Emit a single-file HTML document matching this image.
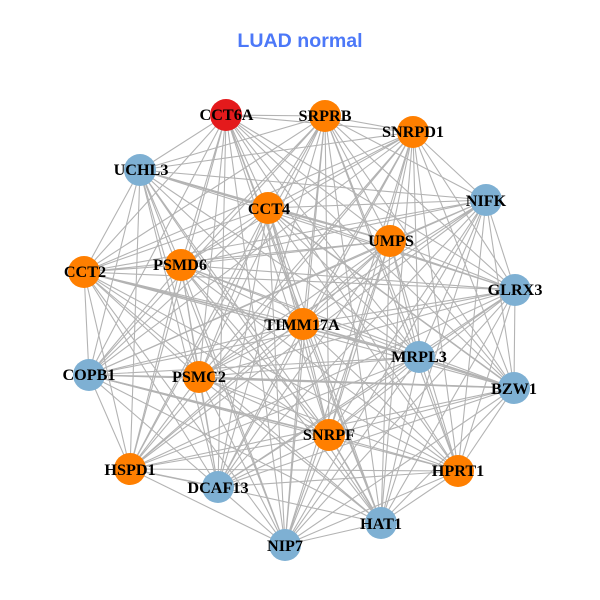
<!DOCTYPE html>
<html><head><meta charset="utf-8"><style>
html,body{margin:0;padding:0;background:#fff}
svg{display:block}
.l{font:bold 16.2px "Liberation Serif",serif;text-anchor:middle;fill:#000}
</style></head><body>
<svg width="600" height="600" viewBox="0 0 600 600" xmlns="http://www.w3.org/2000/svg">
<rect width="600" height="600" fill="#fff"/>
<text x="300" y="47" text-anchor="middle" style="font:bold 19.6px 'Liberation Sans',sans-serif" fill="#4c78f8">LUAD normal</text>
<g fill="none" stroke="#b3b3b3" stroke-width="1.1">
<path d="M226 115L325 116M226 115L413 132M226 115L515 290M226 115L514 388M226 115L458 471M226 115L381 523M226 115L285 545M226 115L218 487M226 115L130 469M226 115L89 375M226 115L84 272M226 115L140 170M226 115L268 208M226 115L390 241M226 115L181 265M226 115L303 324M226 115L419 357M226 115L199 377M226 115L329 435"/>
<path d="M325 116L413 132M325 116L486 200M325 116L515 290M325 116L514 388M325 116L458 471M325 116L381 523M325 116L285 545M325 116L218 487M325 116L130 469M325 116L89 375M325 116L140 170M325 116L84 272M325 116L268 208M325 116L390 241M325 116L181 265M325 116L303 324M325 116L419 357M325 116L199 377M325 116L329 435"/>
<path d="M413 132L486 200M413 132L515 290M413 132L514 388M413 132L458 471M413 132L381 523M413 132L285 545M413 132L218 487M413 132L130 469M413 132L84 272M413 132L140 170M413 132L268 208M413 132L390 241M413 132L181 265M413 132L303 324M413 132L419 357M413 132L199 377M413 132L329 435M413 132L89 375"/>
<path d="M486 200L515 290M486 200L514 388M486 200L458 471M486 200L381 523M486 200L285 545M486 200L218 487M486 200L130 469M486 200L84 272M486 200L268 208M486 200L390 241M486 200L181 265M486 200L303 324M486 200L419 357M486 200L199 377M486 200L329 435M486 200L140 170M486 200L89 375"/>
<path d="M515 290L514 388M515 290L458 471M515 290L381 523M515 290L285 545M515 290L218 487M515 290L130 469M515 290L89 375M515 290L84 272M515 290L140 170M515 290L268 208M515 290L390 241M515 290L181 265M515 290L303 324M515 290L419 357M515 290L199 377M515 290L329 435"/>
<path d="M514 388L458 471M514 388L381 523M514 388L285 545M514 388L218 487M514 388L130 469M514 388L89 375M514 388L84 272M514 388L268 208M514 388L390 241M514 388L181 265M514 388L303 324M514 388L419 357M514 388L199 377M514 388L329 435"/>
<path d="M458 471L381 523M458 471L285 545M458 471L218 487M458 471L130 469M458 471L89 375M458 471L84 272M458 471L268 208M458 471L390 241M458 471L181 265M458 471L303 324M458 471L419 357M458 471L199 377M458 471L329 435"/>
<path d="M381 523L285 545M381 523L218 487M381 523L84 272M381 523L140 170M381 523L268 208M381 523L390 241M381 523L181 265M381 523L303 324M381 523L419 357M381 523L199 377M381 523L329 435M381 523L89 375"/>
<path d="M285 545L218 487M285 545L130 469M285 545L89 375M285 545L84 272M285 545L140 170M285 545L268 208M285 545L390 241M285 545L181 265M285 545L303 324M285 545L419 357M285 545L199 377M285 545L329 435"/>
<path d="M218 487L130 469M218 487L84 272M218 487L140 170M218 487L268 208M218 487L390 241M218 487L181 265M218 487L303 324M218 487L419 357M218 487L199 377M218 487L329 435"/>
<path d="M130 469L89 375M130 469L84 272M130 469L140 170M130 469L268 208M130 469L390 241M130 469L181 265M130 469L303 324M130 469L419 357M130 469L199 377M130 469L329 435"/>
<path d="M89 375L84 272M89 375L140 170M89 375L268 208M89 375L390 241M89 375L181 265M89 375L303 324M89 375L419 357M89 375L199 377M89 375L329 435"/>
<path d="M84 272L140 170M84 272L268 208M84 272L390 241M84 272L181 265M84 272L303 324M84 272L419 357M84 272L199 377M84 272L329 435"/>
<path d="M140 170L268 208M140 170L390 241M140 170L181 265M140 170L303 324M140 170L419 357M140 170L199 377M140 170L329 435"/>
<path d="M268 208L390 241M268 208L181 265M268 208L303 324M268 208L419 357M268 208L199 377M268 208L329 435"/>
<path d="M390 241L181 265M390 241L303 324M390 241L419 357M390 241L199 377M390 241L329 435"/>
<path d="M181 265L303 324M181 265L419 357M181 265L199 377M181 265L329 435"/>
<path d="M303 324L419 357M303 324L199 377M303 324L329 435M419 357L199 377M419 357L329 435M199 377L329 435"/>
</g>
<g fill="none" stroke="#b3b3b3" stroke-width="1.6">
<path d="M140 170L390 241M84 272L419 357M419 357L514 388M199 377L514 388M89 375L329 435M130 469L218 487M329 435L381 523M268 208L514 388"/>
</g>
<g>
<circle cx="226" cy="115" r="16" fill="#e41a1c"/>
<circle cx="325" cy="116" r="16" fill="#ff7f00"/>
<circle cx="413" cy="132" r="16" fill="#ff7f00"/>
<circle cx="486" cy="200" r="16" fill="#7eb0d3"/>
<circle cx="515" cy="290" r="16" fill="#7eb0d3"/>
<circle cx="514" cy="388" r="16" fill="#7eb0d3"/>
<circle cx="458" cy="471" r="16" fill="#ff7f00"/>
<circle cx="381" cy="523" r="16" fill="#7eb0d3"/>
<circle cx="285" cy="545" r="16" fill="#7eb0d3"/>
<circle cx="218" cy="487" r="16" fill="#7eb0d3"/>
<circle cx="130" cy="469" r="16" fill="#ff7f00"/>
<circle cx="89" cy="375" r="16" fill="#7eb0d3"/>
<circle cx="84" cy="272" r="16" fill="#ff7f00"/>
<circle cx="140" cy="170" r="16" fill="#7eb0d3"/>
<circle cx="268" cy="208" r="16" fill="#ff7f00"/>
<circle cx="390" cy="241" r="16" fill="#ff7f00"/>
<circle cx="181" cy="265" r="16" fill="#ff7f00"/>
<circle cx="303" cy="324" r="16" fill="#ff7f00"/>
<circle cx="419" cy="357" r="16" fill="#7eb0d3"/>
<circle cx="199" cy="377" r="16" fill="#ff7f00"/>
<circle cx="329" cy="435" r="16" fill="#ff7f00"/>
</g>
<g>
<text class="l" x="226.500" y="120">CCT6A</text>
<text class="l" x="325" y="121">SRPRB</text>
<text class="l" x="413" y="137">SNRPD1</text>
<text class="l" x="486" y="206">NIFK</text>
<text class="l" x="515" y="295">GLRX3</text>
<text class="l" x="514" y="394">BZW1</text>
<text class="l" x="458" y="476">HPRT1</text>
<text class="l" x="381" y="529">HAT1</text>
<text class="l" x="285" y="551">NIP7</text>
<text class="l" x="218" y="493">DCAF13</text>
<text class="l" x="130" y="475">HSPD1</text>
<text class="l" x="89" y="380">COPB1</text>
<text class="l" x="85" y="277">CCT2</text>
<text class="l" x="141" y="175">UCHL3</text>
<text class="l" x="269" y="214">CCT4</text>
<text class="l" x="391" y="246">UMPS</text>
<text class="l" x="180" y="270">PSMD6</text>
<text class="l" x="302" y="330">TIMM17A</text>
<text class="l" x="419" y="362">MRPL3</text>
<text class="l" x="199" y="382">PSMC2</text>
<text class="l" x="329" y="440">SNRPF</text>
</g>
</svg>
</body></html>
